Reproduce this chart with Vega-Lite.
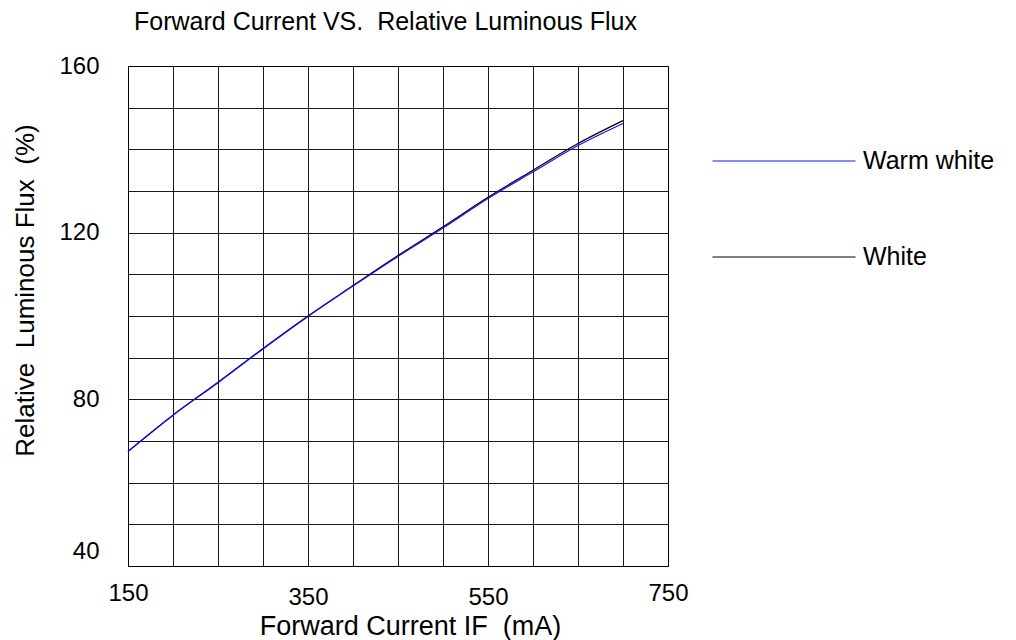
{
  "$schema": "https://vega.github.io/schema/vega-lite/v6.json",
  "width": 540,
  "height": 500,
  "autosize": {"type": "none"},
  "padding": {"left": 128, "top": 66, "right": 348, "bottom": 74},
  "background": "#ffffff",
  "config": {
    "font": "Liberation Sans",
    "view": {"stroke": "#000000", "strokeWidth": 1},
    "axis": {"domain": false, "ticks": false, "tickSize": 0, "grid": true, "gridColor": "#000000", "gridOpacity": 0.9, "gridWidth": 1, "labelColor": "#000000", "titleColor": "#000000", "labelFont": "Liberation Sans", "titleFont": "Liberation Sans", "titleFontWeight": "normal", "labelOverlap": false, "labelFlush": false, "labelBound": false}
  },
  "title": {
    "text": "Forward Current VS.\u00a0 Relative Luminous Flux",
    "anchor": "start",
    "frame": "group",
    "fontSize": 25,
    "fontWeight": "normal",
    "font": "Liberation Sans",
    "color": "#000000",
    "dx": 6,
    "offset": 19
  },
  "data": {
    "values": [
      {"series": "White", "current": 150, "flux": 67.5},
      {"series": "White", "current": 200, "flux": 76.2},
      {"series": "White", "current": 250, "flux": 84.1},
      {"series": "White", "current": 300, "flux": 92.2},
      {"series": "White", "current": 350, "flux": 100.0},
      {"series": "White", "current": 400, "flux": 107.3},
      {"series": "White", "current": 450, "flux": 114.5},
      {"series": "White", "current": 500, "flux": 121.4},
      {"series": "White", "current": 550, "flux": 128.5},
      {"series": "White", "current": 600, "flux": 135.0},
      {"series": "White", "current": 650, "flux": 141.4},
      {"series": "White", "current": 700, "flux": 146.9},
      {"series": "Warm white", "current": 150, "flux": 67.5},
      {"series": "Warm white", "current": 200, "flux": 76.2},
      {"series": "Warm white", "current": 250, "flux": 84.0},
      {"series": "Warm white", "current": 300, "flux": 92.1},
      {"series": "Warm white", "current": 350, "flux": 99.9},
      {"series": "Warm white", "current": 400, "flux": 107.2},
      {"series": "Warm white", "current": 450, "flux": 114.3},
      {"series": "Warm white", "current": 500, "flux": 121.1},
      {"series": "Warm white", "current": 550, "flux": 128.2},
      {"series": "Warm white", "current": 600, "flux": 134.6},
      {"series": "Warm white", "current": 650, "flux": 140.9},
      {"series": "Warm white", "current": 700, "flux": 146.2}
    ]
  },
  "mark": {"type": "line", "interpolate": "monotone", "strokeWidth": 1.2},
  "encoding": {
    "x": {
      "field": "current",
      "type": "quantitative",
      "scale": {"domain": [150, 750], "nice": false, "zero": false},
      "axis": {
        "values": [150, 200, 250, 300, 350, 400, 450, 500, 550, 600, 650, 700, 750],
        "labelExpr": "datum.value % 200 == 150 ? datum.label : ''",
        "labelFontSize": 24,
        "labelPadding": {"condition": {"test": "datum.value == 350 || datum.value == 550", "value": 19}, "value": 15},
        "title": "Forward Current IF\u00a0 (mA)",
        "titleFontSize": 27,
        "titleX": 282,
        "titleY": 47
      }
    },
    "y": {
      "field": "flux",
      "type": "quantitative",
      "scale": {"domain": [40, 160], "nice": false, "zero": false},
      "axis": {
        "values": [40, 50, 60, 70, 80, 90, 100, 110, 120, 130, 140, 150, 160],
        "labelExpr": "datum.value % 40 == 0 ? datum.label : ''",
        "labelFontSize": 24,
        "labelPadding": 29,
        "labelOffset": {"condition": {"test": "datum.value == 40", "value": -15}, "value": 0},
        "title": "Relative\u00a0 Luminous Flux\u00a0 (%)",
        "titleFontSize": 26,
        "titleX": -90,
        "titleY": 224
      }
    },
    "color": {
      "field": "series",
      "type": "nominal",
      "sort": ["Warm white", "White"],
      "scale": {"domain": ["Warm white", "White"], "range": ["#1010ff", "#000000"]},
      "legend": {
        "title": null,
        "orient": "none",
        "legendX": 584,
        "legendY": 23,
        "padding": 0,
        "symbolType": "stroke",
        "symbolSize": 20449,
        "symbolStrokeWidth": 1,
        "symbolOpacity": 1,
        "labelFontSize": 25,
        "labelFont": "Liberation Sans",
        "labelColor": "#000000",
        "labelOffset": 7,
        "rowPadding": 11
      }
    },
    "order": {"field": "series", "sort": "descending"}
  }
}
